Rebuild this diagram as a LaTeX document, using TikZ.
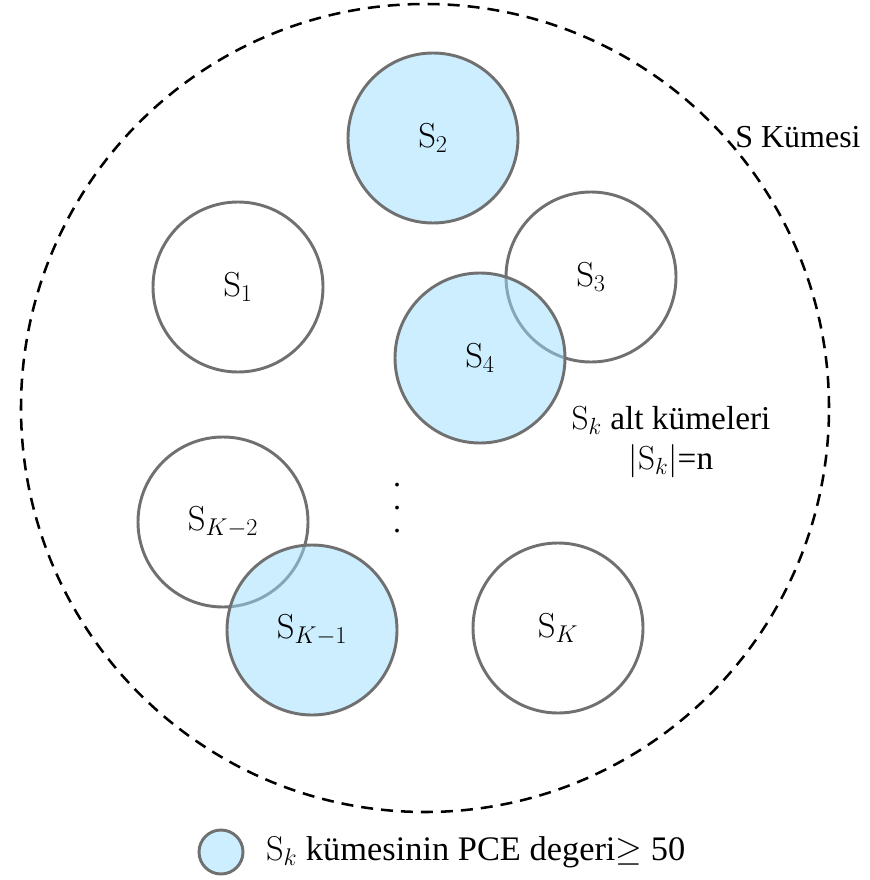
\RequirePackage{fix-cm}
\documentclass[tikz,border=0pt]{standalone}
\usepackage[no-math]{fontspec}
\setmainfont{Liberation Serif}
\usetikzlibrary{positioning}

\definecolor{setgray}{RGB}{112,112,112}
\definecolor{pceblue}{RGB}{153,221,255}

\begin{document}
\begin{tikzpicture}[
  x=0.75pt, y=-0.75pt,
  every node/.style={font=\fontsize{24}{29}\selectfont},
  set/.style={circle, draw=setgray, line width=2.2pt, minimum size=127.5pt, inner sep=0pt, font=\fontsize{26}{31}\selectfont},
  pce/.style={set, fill=pceblue, fill opacity=0.5, text opacity=1},
  outer/.style={circle, draw=black, line width=1.9pt, dash pattern=on 9pt off 6pt, minimum size=606pt, inner sep=0pt}
]
  \useasboundingbox (0,0) rectangle (869,880);

  % ana kume
  \node[outer] (S) at (425,408) {};
  \node[anchor=west, inner sep=0pt] (Slab) at (735,137) {S Kümesi};

  % alt kumeler
  \node[set] (s1) at (238,287) {$\mathrm{S}_1$};
  \node[set] (s3) at (591,277) {$\mathrm{S}_3$};
  \node[set] (sk2) at (223,522) {$\mathrm{S}_{K-2}$};
  \node[set] (sk) at (558,628) {$\mathrm{S}_K$};
  \node[pce] (s2) at (433,138) {$\mathrm{S}_2$};
  \node[pce] (s4) at (480,358) {$\mathrm{S}_4$};
  \node[pce] (sk1) at (312,630) {$\mathrm{S}_{K-1}$};

  \node[align=center, font=\fontsize{25}{30}\selectfont] (info) at (671,442) {$\mathrm{S}_k$ alt kümeleri\\$|\mathrm{S}_k|$=n};
  \node[align=center, inner sep=0pt, font=\fontsize{24}{17.5}\selectfont] (dots) at (397,508) {.\\.\\.};

  % lejant
  \node[pce, minimum size=33pt] (leg) at (221,852) {};
  \node[right=16pt of leg, inner sep=0pt, font=\fontsize{25.8}{31}\selectfont] (legtxt) {$\mathrm{S}_k$ kümesinin PCE degeri$\geq$ 50};

\end{tikzpicture}
\end{document}
